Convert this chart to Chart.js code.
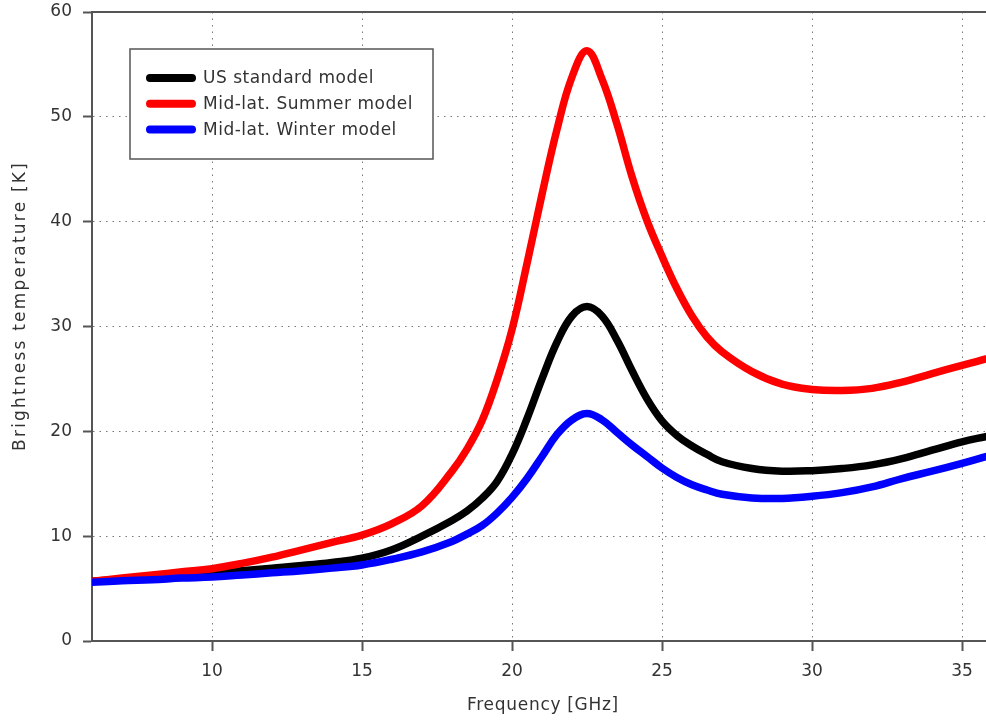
<!DOCTYPE html>
<html>
<head>
<meta charset="utf-8">
<script src="https://cdn.jsdelivr.net/npm/chart.js@4.4.0/dist/chart.umd.min.js"></script>
<style>
html, body { margin: 0; padding: 0; background: #fff; }
#tbChart { display: block; }
</style>
</head>
<body>
<canvas id="tbChart" width="986" height="721"></canvas>
<script>
// frequency grid [GHz] and brightness temperatures [K]
var freq = [6, 7, 8, 9, 10, 11, 12, 13, 14, 15, 16, 17, 18, 18.5, 19, 19.5, 20, 20.5, 21, 21.5, 22, 22.5, 23, 23.5, 24, 24.5, 25, 25.5, 26, 26.5, 27, 28, 29, 30, 31, 32, 33, 34, 35, 35.8];
var usStandard = [5.7, 5.9, 6.1, 6.3, 6.45, 6.7, 6.95, 7.2, 7.5, 7.9, 8.7, 10.0, 11.5, 12.4, 13.6, 15.2, 17.8, 21.2, 25.0, 28.5, 31.0, 31.9, 31.0, 28.7, 25.8, 23.1, 21.0, 19.6, 18.6, 17.8, 17.1, 16.45, 16.2, 16.25, 16.45, 16.8, 17.4, 18.2, 19.0, 19.5];
var midLatSummer = [5.7, 6.0, 6.3, 6.6, 6.9, 7.4, 8.0, 8.7, 9.4, 10.1, 11.2, 12.9, 16.2, 18.3, 21.0, 24.9, 29.7, 36.0, 42.6, 48.8, 53.8, 56.3, 53.6, 49.3, 44.3, 40.1, 36.7, 33.6, 31.0, 29.0, 27.6, 25.7, 24.5, 24.0, 23.9, 24.1, 24.7, 25.5, 26.3, 26.9];
var midLatWinter = [5.6, 5.75, 5.85, 6.0, 6.1, 6.3, 6.5, 6.7, 6.95, 7.25, 7.8, 8.5, 9.5, 10.2, 11.0, 12.2, 13.7, 15.5, 17.6, 19.7, 21.1, 21.7, 21.1, 19.9, 18.7, 17.6, 16.5, 15.6, 14.9, 14.4, 14.0, 13.65, 13.6, 13.8, 14.15, 14.7, 15.5, 16.2, 16.95, 17.6];
var seriesNames = ['US standard model', 'Mid-lat. Summer model', 'Mid-lat. Winter model'];
var seriesColors = ['#000000', '#ff0000', '#0000ff'];
var xTicks = [10, 15, 20, 25, 30, 35];
var yTicks = [0, 10, 20, 30, 40, 50, 60];
var xTitle = 'Frequency [GHz]';
var yTitle = 'Brightness temperature [K]';

var FONT = '"DejaVu Sans", sans-serif';

function toPoints(vals) {
  return freq.map(function(f, i) { return {x: f, y: vals[i]}; });
}

function makeSet(i, vals, order) {
  return {
    label: seriesNames[i],
    data: toPoints(vals),
    borderColor: seriesColors[i],
    backgroundColor: seriesColors[i],
    borderWidth: 7.5,
    pointRadius: 0,
    borderCapStyle: 'round',
    borderJoinStyle: 'round',
    tension: 0.4,
    fill: false,
    order: order
  };
}

// top frame line, legend box, axis titles
var extras = {
  id: 'extras',
  afterDatasetsDraw: function(chart) {
    var ctx = chart.ctx;
    var area = chart.chartArea;
    ctx.save();
    ctx.strokeStyle = '#555';
    ctx.lineWidth = 2;
    ctx.beginPath();
    ctx.moveTo(area.left, area.top);
    ctx.lineTo(area.right, area.top);
    ctx.stroke();

    // legend
    ctx.fillStyle = '#fff';
    ctx.fillRect(130, 49, 303, 110);
    ctx.lineWidth = 1.5;
    ctx.strokeStyle = '#555';
    ctx.strokeRect(130, 49, 303, 110);
    ctx.font = '17px ' + FONT;
    ctx.letterSpacing = '0.5px';
    ctx.textBaseline = 'middle';
    ctx.textAlign = 'left';
    chart.data.datasets.forEach(function(ds, i) {
      var y = 78 + i * 25.7;
      ctx.strokeStyle = ds.borderColor;
      ctx.lineWidth = 8;
      ctx.lineCap = 'round';
      ctx.beginPath();
      ctx.moveTo(150, y);
      ctx.lineTo(192, y);
      ctx.stroke();
      ctx.fillStyle = '#333';
      ctx.fillText(ds.label, 203, y + 1);
    });

    // axis titles
    ctx.fillStyle = '#333';
    ctx.textAlign = 'center';
    ctx.letterSpacing = '0.7px';
    ctx.fillText(xTitle, 543, 706);
    ctx.translate(21, 306);
    ctx.rotate(-Math.PI / 2);
    ctx.letterSpacing = '2.2px';
    ctx.fillText(yTitle, 0, 0);
    ctx.restore();
  }
};

var ctx = document.getElementById('tbChart').getContext('2d');
var tbChart = new Chart(ctx, {
  type: 'line',
  data: {
    datasets: [
      makeSet(0, usStandard, 3),
      makeSet(1, midLatSummer, 2),
      makeSet(2, midLatWinter, 1)
    ]
  },
  options: {
    responsive: false,
    animation: false,
    devicePixelRatio: 1,
    layout: { padding: { top: 12, right: 0, left: 0, bottom: 0 } },
    plugins: {
      legend: { display: false },
      tooltip: { enabled: false }
    },
    scales: {
      x: {
        type: 'linear',
        min: 6,
        max: 35.8,
        afterBuildTicks: function(scale) {
          scale.ticks = xTicks.map(function(v) { return {value: v}; });
        },
        afterFit: function(scale) {
          scale.height = 80;
          scale.paddingLeft = 0;
          scale.paddingRight = 0;
        },
        grid: { color: '#777', lineWidth: 1, tickLength: 10, tickColor: '#555', tickWidth: 2 },
        border: { color: '#555', width: 2, dash: [1.5, 5] },
        ticks: { color: '#333', font: { family: FONT, size: 17 }, padding: 10, maxRotation: 0 }
      },
      y: {
        type: 'linear',
        min: 0,
        max: 60,
        afterBuildTicks: function(scale) {
          scale.ticks = yTicks.map(function(v) { return {value: v}; });
        },
        afterFit: function(scale) {
          scale.width = 92;
          scale.paddingTop = 0;
          scale.paddingBottom = 0;
        },
        grid: { color: '#777', lineWidth: 1, tickLength: 9, tickColor: '#555', tickWidth: 2 },
        border: { color: '#555', width: 2, dash: [1.5, 5] },
        ticks: { color: '#333', font: { family: FONT, size: 17 }, padding: 11 }
      }
    }
  },
  plugins: [extras]
});
</script>
</body>
</html>
